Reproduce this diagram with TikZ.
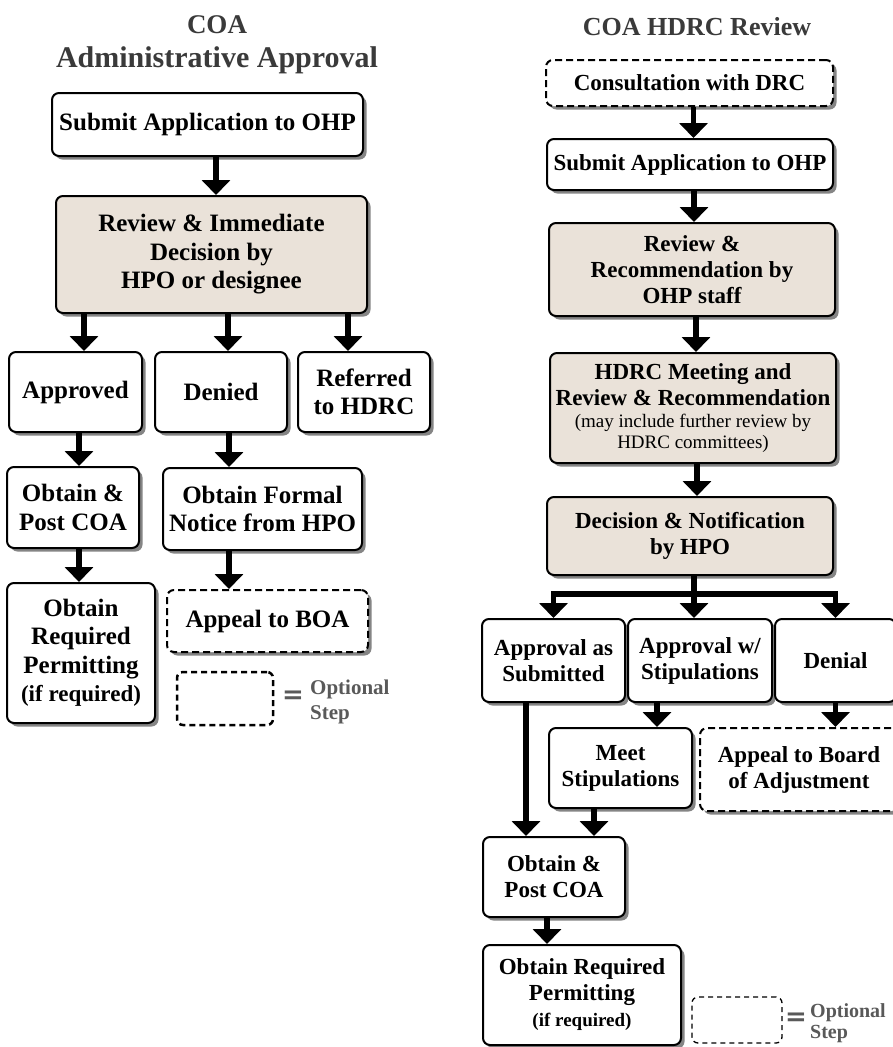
\documentclass[tikz,border=0pt]{standalone}
\usepackage{fontspec}
\setmainfont{Liberation Serif}
\newfontfamily\eqfont{DejaVu Sans}
\usetikzlibrary{arrows.meta,shadows}
\definecolor{stepfill}{HTML}{EAE2D9}
\definecolor{shadowgray}{HTML}{858585}
\definecolor{titlegray}{HTML}{3A3A3A}
\definecolor{notegray}{HTML}{595959}

\begin{document}
\begin{tikzpicture}[x=1pt,y=-1pt]

\tikzset{
    stepbox/.style={
        rectangle,
        draw,
        line width=2pt,
        rounded corners=7pt,
        fill=white,
        align=center,
        inner sep=2pt,
        drop shadow={shadow xshift=3.5pt, shadow yshift=-3.5pt,
            fill=shadowgray, opacity=1}
    },
    decisionbox/.style={stepbox, fill=stepfill},
    optbox/.style={stepbox, dash pattern=on 7pt off 4pt},
    boxsize/.style 2 args={minimum width=#1pt, minimum height=#2pt},
    leftfont/.style={font=\bfseries\fontsize{25}{28.5}\selectfont},
    rightfont/.style={font=\bfseries\fontsize{23}{26}\selectfont},
    flowline/.style={line width=5.5pt},
    flowarrow/.style={flowline, -{Triangle[width=28pt, length=15pt]}},
    legendbox/.style={draw, rounded corners=6pt, dash pattern=on 6pt off 4pt},
    notetext/.style={text=notegray, align=left, anchor=west, inner sep=0pt,
        font=\bfseries\fontsize{21}{25}\selectfont},
    eqtext/.style={text=notegray, anchor=west, inner sep=0pt,
        font=\eqfont\bfseries\fontsize{26}{26}\selectfont},
    titletext/.style={text=titlegray, anchor=base, inner sep=0pt}
}

\fill[white] (0,0) rectangle (893,1047);
\useasboundingbox (0,0) rectangle (893,1047);

% administrative approval
\node[titletext, font=\bfseries\fontsize{27}{30}\selectfont] (l-title) at (217,33) {COA};
\node[titletext, font=\bfseries\fontsize{30}{34}\selectfont] (l-subtitle) at (217,67) {Administrative Approval};

\node[stepbox, leftfont, boxsize={311}{63}] (l-submit) at (207.5,124.5) {Submit Application to OHP};
\node[decisionbox, leftfont, boxsize={311}{117}] (l-review) at (211.5,254.5) {Review \& Immediate\\Decision by\\HPO or designee};
\node[stepbox, leftfont, boxsize={133}{80}] (l-approved) at (75.5,392) {Approved};
\node[stepbox, leftfont, boxsize={132}{80}] (l-denied) at (221,392) {Denied};
\node[stepbox, leftfont, boxsize={132}{80}] (l-referred) at (364,392) {Referred\\to HDRC};
\node[stepbox, leftfont, boxsize={132}{81}] (l-obtain) at (73,507.5) {Obtain \&\\Post COA};
\node[stepbox, leftfont, boxsize={199}{82}] (l-notice) at (262.5,509) {Obtain Formal\\Notice from HPO};
\node[stepbox, leftfont, boxsize={148}{140}] (l-permit) at (81,653) {Obtain\\Required\\Permitting\\{\fontsize{23}{28.5}\selectfont (if required)}};
\node[optbox, leftfont, boxsize={201}{62}] (l-appeal) at (267.5,621) {Appeal to BOA};

\node[legendbox, line width=2.5pt, boxsize={96}{53}] (l-legend) at (225,698.5) {};
\node[eqtext] (l-equal) at (282,697) {=};
\node[notetext] (l-note) at (310,702) {Optional\\Step};

\draw[flowarrow] ([xshift=8.5pt]l-submit.south) -- ([xshift=8.5pt]l-submit.south |- l-review.north);
\foreach \target/\dx in {approved/8.5, denied/7, referred/-16} {
    \draw[flowarrow] ([xshift=\dx pt]l-\target.north |- l-review.south) -- ([xshift=\dx pt]l-\target.north);
}
\draw[flowarrow] ([xshift=3.5pt]l-approved.south) -- ([xshift=3.5pt]l-approved.south |- l-obtain.north);
\draw[flowarrow] ([xshift=6pt]l-obtain.south) -- ([xshift=6pt]l-obtain.south |- l-permit.north);
\draw[flowarrow] ([xshift=8pt]l-denied.south) -- ([xshift=8pt]l-denied.south |- l-notice.north);
\draw[flowarrow] ([xshift=-33.5pt]l-notice.south) -- ([xshift=-33.5pt]l-notice.south |- l-appeal.north);

% hdrc review
\node[titletext, font=\bfseries\fontsize{26}{30}\selectfont] (r-title) at (697,35) {COA HDRC Review};

\node[optbox, rightfont, boxsize={287}{46}] (r-consult) at (689.5,83) {Consultation with DRC};
\node[stepbox, rightfont, boxsize={286}{51}] (r-submit) at (690,164.5) {Submit Application to OHP};
\node[decisionbox, rightfont, boxsize={286}{93}] (r-review) at (692,269.5) {Review \&\\Recommendation by\\OHP staff};
\node[decisionbox, rightfont, boxsize={286}{110}] (r-hdrc) at (693,408) {HDRC Meeting and\\Review \& Recommendation\\[-4pt]{\mdseries\fontsize{19}{21}\selectfont (may include further review by}\\[-5pt]{\mdseries\fontsize{19}{21}\selectfont HDRC committees)}};
\node[decisionbox, rightfont, boxsize={286}{78}] (r-decision) at (690,536) {Decision \& Notification\\by HPO};
\node[stepbox, rightfont, boxsize={143}{83}] (r-asis) at (553.5,660.5) {Approval as\\Submitted};
\node[stepbox, rightfont, boxsize={144}{83}] (r-stip) at (700,660.5) {Approval w/\\Stipulations};
\node[stepbox, rightfont, boxsize={121}{83}] (r-denial) at (835.5,660.5) {Denial};
\node[stepbox, rightfont, boxsize={143}{80}] (r-meet) at (620.5,768) {Meet\\Stipulations};
\node[optbox, rightfont, boxsize={198}{83}] (r-appeal) at (799,769.5) {Appeal to Board\\of Adjustment};
\node[stepbox, rightfont, boxsize={142}{80}] (r-obtain) at (554,877) {Obtain \&\\Post COA};
\node[stepbox, rightfont, boxsize={198}{100}] (r-permit) at (582,995) {Obtain Required\\Permitting\\{\fontsize{19}{24}\selectfont (if required)}};

\node[legendbox, line width=1.3pt, dash pattern=on 5pt off 4pt, boxsize={90}{46}] (r-legend) at (737,1020) {};
\node[eqtext] (r-equal) at (785,1019) {=};
\node[notetext, font=\bfseries\fontsize{20}{21}\selectfont] (r-note) at (810,1023) {Optional\\Step};

\foreach \src/\dst in {consult/submit, submit/review, review/hdrc, hdrc/decision} {
    \draw[flowarrow] ([xshift=4pt]r-\src.south) -- ([xshift=4pt]r-\src.south |- r-\dst.north);
}
\coordinate (r-split) at ([xshift=4pt, yshift=-18pt]r-decision.south);
\draw[flowline] ([xshift=4pt]r-decision.south) -- (r-split);
\draw[flowarrow] (r-split) -| (r-asis);
\draw[flowarrow] (r-split) -- (r-split |- r-stip.north);
\draw[flowarrow] (r-split) -| (r-denial);
\draw[flowarrow] ([xshift=-43pt]r-stip.south) -- ([xshift=-43pt]r-stip.south |- r-meet.north);
\draw[flowarrow] (r-denial.south) -- (r-denial.south |- r-appeal.north);
\draw[flowarrow] ([xshift=-28pt]r-obtain.north |- r-asis.south) -- ([xshift=-28pt]r-obtain.north);
\draw[flowarrow] ([xshift=-26.5pt]r-meet.south) -- ([xshift=-26.5pt]r-meet.south |- r-obtain.north);
\draw[flowarrow] ([xshift=-7pt]r-obtain.south) -- ([xshift=-7pt]r-obtain.south |- r-permit.north);
\end{tikzpicture}
\end{document}
